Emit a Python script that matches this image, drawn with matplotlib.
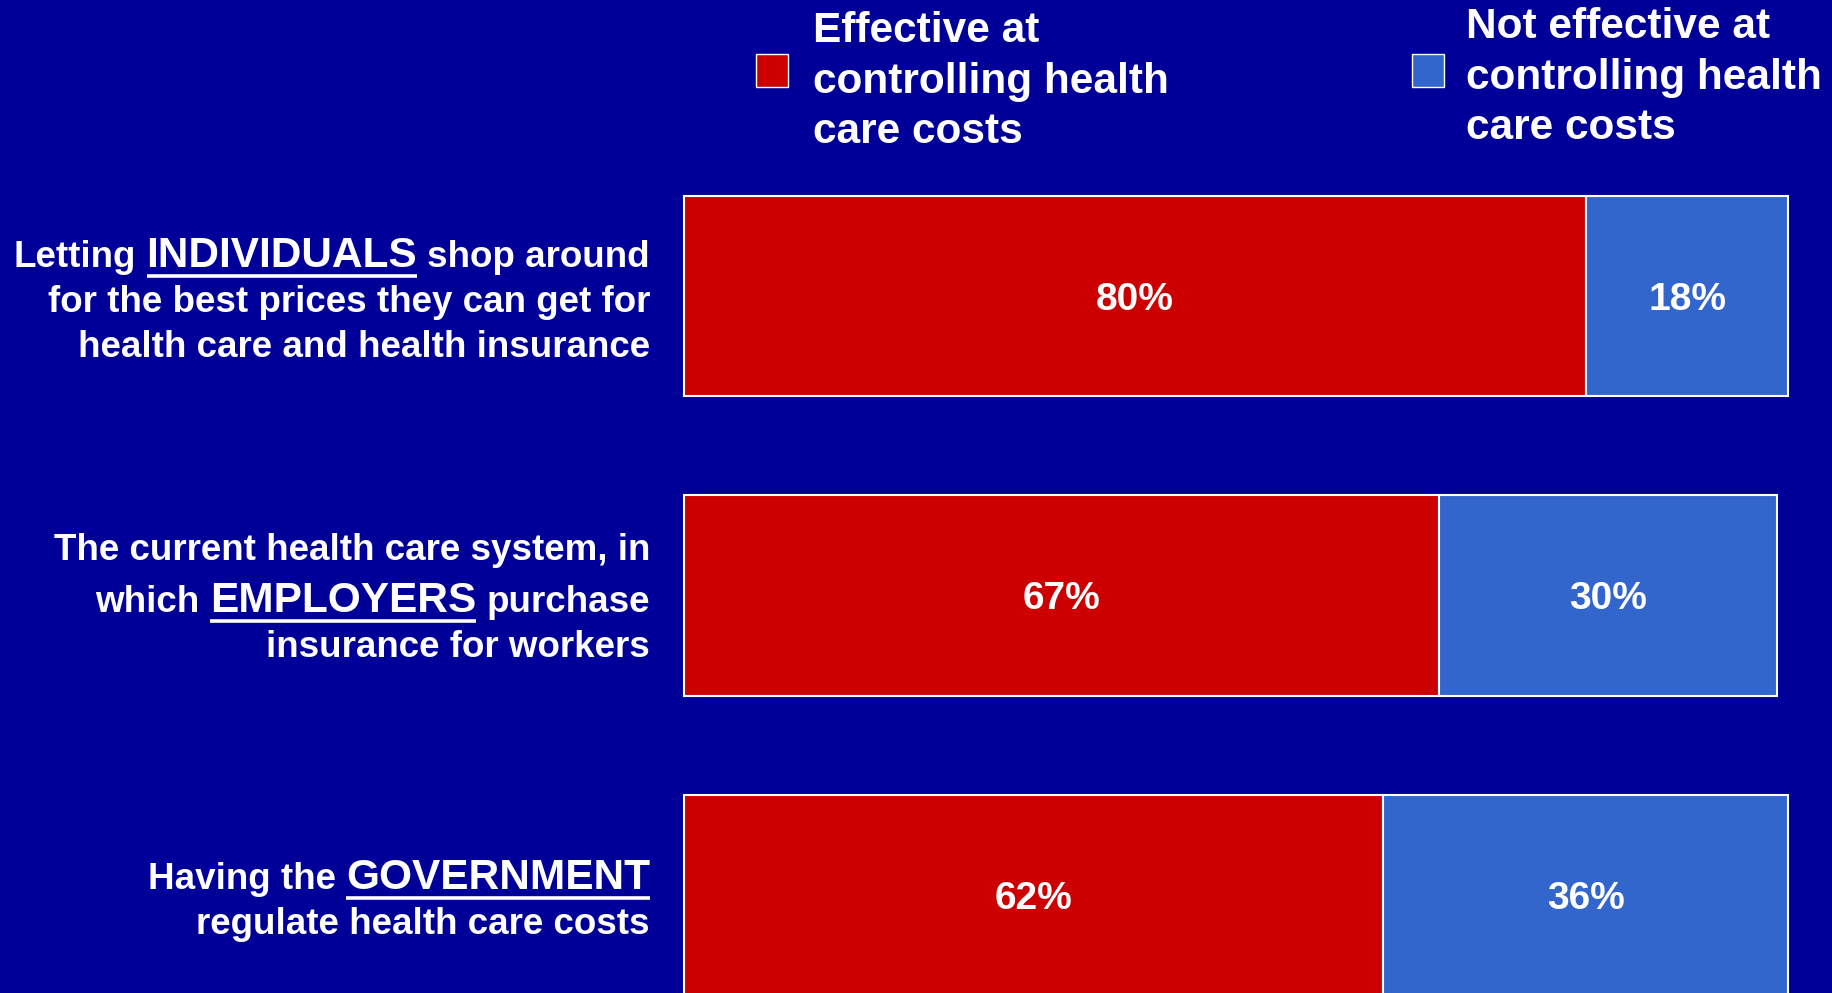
import matplotlib
matplotlib.use("Agg")
import matplotlib.pyplot as plt
from matplotlib.patches import Rectangle
from matplotlib.lines import Line2D
from matplotlib.transforms import IdentityTransform, offset_copy
import numpy as np

BG, RED, BLUE = "#000099", "#CC0000", "#3366CC"
plt.rcParams.update({"font.family": "Liberation Sans", "font.weight": "bold"})

# label lines as (text, emphasised) pieces; emphasised words are bigger and underlined
label_lines = [
    [[("Letting", False), ("INDIVIDUALS", True), ("shop around", False)],
     [("for the best prices they can get for", False)],
     [("health care and health insurance", False)]],
    [[("The current health care system, in", False)],
     [("which", False), ("EMPLOYERS", True), ("purchase", False)],
     [("insurance for workers", False)]],
    [[("Having the", False), ("GOVERNMENT", True)],
     [("regulate health care costs", False)]],
]
effective = [80, 67, 62]
not_effective = [18, 30, 36]
series_names = ["Effective at\ncontrolling health\ncare costs",
                "Not effective at\ncontrolling health\ncare costs"]
series_colors = [RED, BLUE]

W, H = 1833, 993
fig = plt.figure(figsize=(W / 100, H / 100), dpi=100, facecolor=BG)
ax = fig.add_axes([0, 0, 1, 1])
ax.set_facecolor(BG)
ax.axis("off")
ax.set_xlim(-60.7, 101.95)
ax.set_ylim(2.327, -0.988)

y = np.arange(len(effective))
eff = np.array(effective)
neff = np.array(not_effective)
ax.barh(y, eff, height=0.668, color=RED, edgecolor="white", lw=1.5)
ax.barh(y, neff, left=eff, height=0.668, color=BLUE, edgecolor="white", lw=1.5)

# value labels: baseline shifted down by half the digit height so they sit centred
val_tr = offset_copy(ax.transData, fig=fig, x=0, y=-10, units="points")
for i in y:
    ax.text(eff[i] / 2, i, f"{eff[i]}%", ha="center", va="baseline",
            fontsize=28, color="white", weight="bold", transform=val_tr)
    ax.text(eff[i] + neff[i] / 2, i, f"{neff[i]}%", ha="center", va="baseline",
            fontsize=28, color="white", weight="bold", transform=val_tr)

# category labels, laid out piece by piece in pixel space
renderer = fig.canvas.get_renderer()
NORM, EMPH = 26.5, 30.5
px = IdentityTransform()
LINE_H = {False: 45, True: 52}   # line height per line kind
ASC = {False: 35, True: 42}      # baseline offset from top of line


def text_width(s, size):
    t = fig.text(0, 0, s, fontsize=size, weight="bold")
    w = t.get_window_extent(renderer).width
    t.remove()
    return w


space = text_width("a a", NORM) - text_width("aa", NORM)
right_edge = 650
for i, lines in enumerate(label_lines):
    yc = ax.transData.transform((0, i))[1]
    kinds = [any(em for _, em in pieces) for pieces in lines]
    top = yc + sum(LINE_H[k] for k in kinds) / 2
    for pieces, k in zip(lines, kinds):
        yb = top - ASC[k]
        top -= LINE_H[k]
        widths = [text_width(s, EMPH if em else NORM) for s, em in pieces]
        x = right_edge - sum(widths) - space * (len(pieces) - 1)
        for (s, em), w in zip(pieces, widths):
            fig.text(x, yb, s, transform=px, fontsize=EMPH if em else NORM,
                     color="white", weight="bold", va="baseline", ha="left")
            if em:
                fig.add_artist(Line2D([x, x + w], [yb - 9.5, yb - 9.5], transform=px,
                                      color="white", lw=2.6, solid_capstyle="butt"))
            x += w + space

# legend
legend_x = [(756, 813), (1412, 1466)]
legend_base = [(42, 92.5, 143), (38, 89, 139)]
for name, col, (sx, tx), bases in zip(series_names, series_colors, legend_x, legend_base):
    fig.add_artist(Rectangle((sx, H - 87), 32, 33, transform=px,
                             facecolor=col, edgecolor="white", lw=1))
    for line, b in zip(name.split("\n"), bases):
        fig.text(tx, H - b, line, transform=px, fontsize=30.5, color="white",
                 weight="bold", va="baseline", ha="left")

fig.savefig("out.png", dpi=100, facecolor=BG)
